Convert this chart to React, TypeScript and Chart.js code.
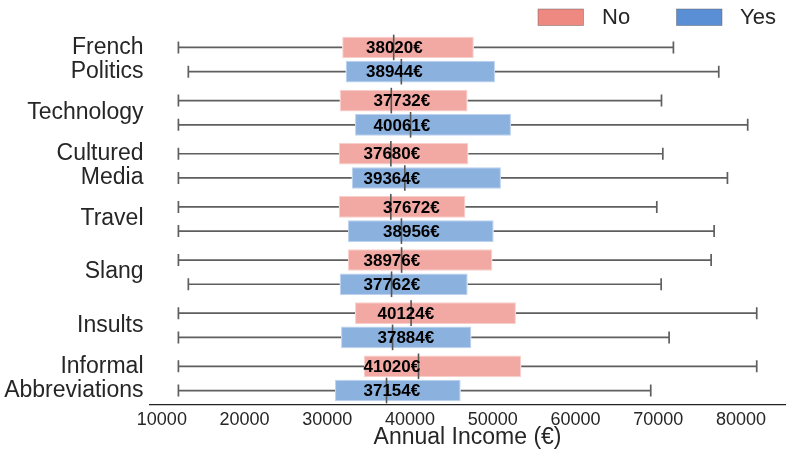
import React, { useEffect, useRef } from 'react';
import { Chart, registerables } from 'chart.js';

Chart.register(...registerables);

// topics (multi-line labels as arrays)
const categories = [
  ['French', 'Politics'],
  'Technology',
  ['Cultured', 'Media'],
  'Travel',
  'Slang',
  'Insults',
  ['Informal', 'Abbreviations'],
];
const hues = ['No', 'Yes'];

// box stats, "No"
const noMin = [12000, 12000, 12000, 12000, 12000, 12000, 12000];
const noQ1 = [31800, 31500, 31400, 31400, 32500, 33350, 34430];
const noMedian = [38020, 37732, 37680, 37672, 38976, 40124, 41020];
const noQ3 = [47700, 46950, 47040, 46680, 49940, 52790, 53430];
const noMax = [71830, 70390, 70550, 69820, 76390, 81900, 81900];

// box stats, "Yes"
const yesMin = [13200, 12000, 12000, 12000, 13200, 12000, 12000];
const yesQ1 = [32220, 33350, 32950, 32500, 31500, 31660, 30930];
const yesMedian = [38944, 40061, 39364, 38956, 37762, 37884, 37154];
const yesQ3 = [50260, 52190, 50980, 50100, 46960, 47400, 46110];
const yesMax = [77310, 80810, 78360, 76750, 70350, 71310, 69090];

// where the median text sits on the income axis, per topic
const labelAt = [38100, 39010, 37800, 40160, 37800, 39490, 37800];

const xTicks = [10000, 20000, 30000, 40000, 50000, 60000, 70000, 80000];

const FONT = "'Liberation Sans', Arial, Helvetica, sans-serif";
const TEXT = '#262626';
const noColor = '#EE8982';
const yesColor = '#5A8FD5';

const stats = [
  { min: noMin, q1: noQ1, med: noMedian, q3: noQ3, max: noMax },
  { min: yesMin, q1: yesQ1, med: yesMedian, q3: yesQ3, max: yesMax },
];

const boxParts = {
  id: 'boxParts',
  beforeDatasetsDraw(chart: any) {
    const { ctx } = chart;
    const x = chart.scales.x;
    ctx.save();
    ctx.strokeStyle = '#5f5f5f';
    ctx.lineWidth = 1.7;
    stats.forEach((s, d) => {
      chart.getDatasetMeta(d).data.forEach((bar: any, i: number) => {
        const y = bar.y;
        const p0 = x.getPixelForValue(s.min[i]);
        const p1 = x.getPixelForValue(s.q1[i]);
        const p3 = x.getPixelForValue(s.q3[i]);
        const p4 = x.getPixelForValue(s.max[i]);
        const cap = 6;
        ctx.beginPath();
        ctx.moveTo(p0, y);
        ctx.lineTo(p1, y);
        ctx.moveTo(p3, y);
        ctx.lineTo(p4, y);
        ctx.moveTo(p0, y - cap);
        ctx.lineTo(p0, y + cap);
        ctx.moveTo(p4, y - cap);
        ctx.lineTo(p4, y + cap);
        ctx.stroke();
      });
    });
    ctx.restore();
  },
  afterDatasetsDraw(chart: any) {
    const { ctx } = chart;
    const x = chart.scales.x;
    ctx.save();
    // medians
    ctx.strokeStyle = '#555555';
    ctx.lineWidth = 1.6;
    stats.forEach((s, d) => {
      chart.getDatasetMeta(d).data.forEach((bar: any, i: number) => {
        const px = x.getPixelForValue(s.med[i]);
        const h = bar.height / 2 + 2;
        ctx.beginPath();
        ctx.moveTo(px, bar.y - h);
        ctx.lineTo(px, bar.y + h);
        ctx.stroke();
      });
    });
    // median labels
    ctx.fillStyle = '#000';
    ctx.font = `bold 17px ${FONT}`;
    ctx.textAlign = 'center';
    ctx.textBaseline = 'middle';
    stats.forEach((s, d) => {
      chart.getDatasetMeta(d).data.forEach((bar: any, i: number) => {
        ctx.fillText(`${s.med[i]}€`, x.getPixelForValue(labelAt[i]), bar.y + 1);
      });
    });
    // legend
    const items = [
      { text: hues[0], color: noColor, bx: 538, tx: 602 },
      { text: hues[1], color: yesColor, bx: 676.5, tx: 740 },
    ];
    ctx.font = `22px ${FONT}`;
    ctx.textAlign = 'left';
    items.forEach((it) => {
      ctx.fillStyle = it.color;
      ctx.fillRect(it.bx, 9, 45.5, 16.5);
      ctx.strokeStyle = 'rgba(90,90,90,0.55)';
      ctx.lineWidth = 0.8;
      ctx.strokeRect(it.bx, 9, 45.5, 16.5);
      ctx.fillStyle = TEXT;
      ctx.fillText(it.text, it.tx, 18);
    });
    ctx.restore();
  },
};

const IncomeBoxChart = () => {
  const chartRef = useRef<HTMLCanvasElement>(null);
  const chartInstance = useRef<Chart | null>(null);

  useEffect(() => {
    if (chartInstance.current) {
      chartInstance.current.destroy();
    }
    const ctx = chartRef.current?.getContext('2d');
    if (!ctx) return;

    chartInstance.current = new Chart(ctx, {
      type: 'bar',
      data: {
        labels: categories as any,
        datasets: [
          {
            label: hues[0],
            data: noQ1.map((q, i) => [q, noQ3[i]]) as any,
            backgroundColor: '#F2A9A4',
            borderColor: '#F8CFCB',
            borderWidth: 1,
            borderSkipped: false,
          },
          {
            label: hues[1],
            data: yesQ1.map((q, i) => [q, yesQ3[i]]) as any,
            backgroundColor: '#8BB1DF',
            borderColor: '#BCD2EE',
            borderWidth: 1,
            borderSkipped: false,
          },
        ],
      },
      options: {
        indexAxis: 'y',
        animation: false,
        responsive: true,
        maintainAspectRatio: false,
        layout: { padding: { top: 33, right: 3.4, left: 0, bottom: 0 } },
        datasets: { bar: { categoryPercentage: 0.911, barPercentage: 0.893 } },
        plugins: {
          legend: { display: false },
          tooltip: { enabled: false },
        },
        scales: {
          x: {
            type: 'linear',
            min: 8505,
            max: 85390,
            afterBuildTicks: (s: any) => {
              s.ticks = xTicks.map((v) => ({ value: v }));
            },
            afterFit: (s: any) => {
              s.height = 47;
            },
            grid: { display: false, drawTicks: false },
            border: { display: true, color: '#222222', width: 1.25 },
            ticks: {
              font: { family: FONT, size: 18 },
              color: TEXT,
              padding: 4,
              maxRotation: 0,
              autoSkip: false,
              callback: (v: any) => String(v),
            },
            title: {
              display: true,
              text: 'Annual Income (€)',
              font: { family: FONT, size: 23 },
              color: TEXT,
              padding: { top: 0, bottom: 1 },
            },
          },
          y: {
            type: 'category',
            afterFit: (s: any) => {
              s.width = 149.5;
            },
            grid: { display: false, drawTicks: false },
            border: { display: false },
            ticks: {
              font: { family: FONT, size: 23, lineHeight: 1.065 },
              color: TEXT,
              padding: 6,
              autoSkip: false,
            },
          },
        },
      },
      plugins: [boxParts],
    });

    return () => {
      if (chartInstance.current) {
        chartInstance.current.destroy();
        chartInstance.current = null;
      }
    };
  }, []);

  return (
    <div style={{ position: 'absolute', left: 0, top: 0, width: 789, height: 452, background: '#fff' }}>
      <canvas ref={chartRef} />
    </div>
  );
};

export default IncomeBoxChart;
